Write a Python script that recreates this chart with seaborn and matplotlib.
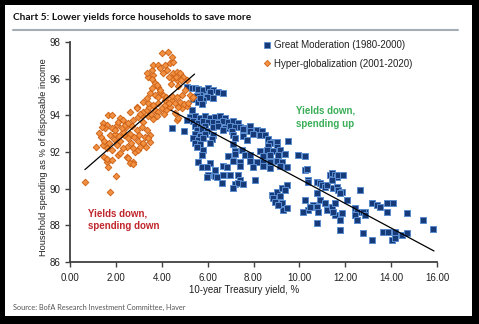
import matplotlib
matplotlib.use("Agg")
import matplotlib.pyplot as plt
import seaborn as sns
import pandas as pd
from matplotlib.patches import Rectangle
from matplotlib.lines import Line2D

# ---------------- data ----------------
gm_yield = [
    5.09, 5.30, 5.45, 5.60, 5.81, 6.03, 6.25, 6.46, 6.68, 6.10, 5.67, 5.96, 5.52, 5.38, 5.81, 5.59,
    5.67, 6.24, 5.74, 5.30, 5.23, 5.09, 4.43, 4.97,
    5.45, 5.67, 5.89, 6.10, 6.32, 6.54, 6.76,
    5.37, 5.59, 5.81, 6.03, 6.25, 6.46, 6.68, 6.90, 7.12, 7.34,
    5.45, 5.67, 5.89, 6.25, 6.46, 6.76, 6.97, 7.19, 7.41, 7.63, 7.85,
    5.52, 5.74, 5.96, 6.68, 7.05, 7.55, 7.85, 8.14, 8.36,
    5.45, 5.67, 5.89, 6.25, 7.12, 7.56, 7.99, 8.28, 8.50,
    5.37, 5.59, 5.81, 6.17, 7.19, 7.70, 8.65,
    8.86, 9.01, 9.52,
    5.45, 5.67, 6.10, 7.12, 8.72,
    9.01, 8.65, 5.52,
    5.81, 7.19, 7.48, 8.28, 8.57, 8.86, 9.15,
    5.74, 6.90, 7.19, 7.63, 7.85, 8.43, 8.72, 9.08, 9.37, 9.95, 10.24,
    5.60, 7.12, 7.41, 7.85, 8.14, 8.43, 8.72, 9.01, 9.23,
    6.10,
    5.74, 5.96, 6.68, 6.83, 7.41, 7.99, 8.43, 8.72, 9.15, 9.45,
    6.32,
    6.03, 6.32, 6.68, 6.97, 7.34,
    5.96, 6.39,
    7.41, 8.06,
    6.61, 7.19, 7.34, 7.56,
    7.12,
    8.79, 9.01, 9.23, 9.45, 8.86, 8.94, 9.15, 9.37, 9.23, 9.30, 9.45, 9.08,
    10.24, 10.32, 10.39, 10.39, 10.75, 10.90, 10.97, 11.12, 11.19, 11.48, 11.33, 11.41,
    11.55, 11.63, 11.70, 11.92, 11.41, 11.63, 11.70, 11.84, 11.77, 12.06, 10.75, 10.90,
    10.61, 10.39, 10.17, 11.12, 11.19, 11.41, 11.55, 10.24, 10.46, 10.75, 10.82, 10.75,
    11.55, 11.77, 11.84, 11.48, 11.77,
    12.64, 12.42, 12.50, 12.86, 12.42, 12.50, 12.79, 12.86, 13.15, 13.37, 13.51, 13.81,
    14.10, 13.81, 14.68, 15.40, 15.84, 12.79, 13.15, 13.66, 13.88, 14.17, 14.46, 14.68,
    14.02, 14.17,
]
gm_spend = [
    95.56, 95.50, 95.47, 95.42, 95.38, 95.47, 95.38, 95.29, 95.20, 95.25, 95.10, 95.00, 95.05, 94.90, 94.84, 94.75,
    94.93, 94.93, 94.60, 94.29, 93.92, 93.74, 93.29, 93.16,
    93.95, 93.88, 93.97, 93.86, 93.93, 93.99, 93.85,
    93.68, 93.60, 93.70, 93.62, 93.66, 93.58, 93.71, 93.63, 93.67, 93.60,
    93.40, 93.33, 93.43, 93.35, 93.41, 93.32, 93.44, 93.36, 93.39, 93.31, 93.42,
    93.18, 93.24, 93.15, 93.22, 93.17, 93.25, 93.16, 93.21, 93.14,
    92.96, 92.89, 92.98, 92.90, 92.95, 92.88, 92.97, 92.91, 92.94,
    92.75, 92.68, 92.74, 92.70, 92.77, 92.66, 92.73,
    92.56, 92.52, 92.60,
    92.47, 92.43, 92.50, 92.44, 92.49,
    92.29, 92.33, 92.26,
    92.10, 92.06, 92.13, 92.08, 92.12, 92.05, 92.11,
    91.84, 91.80, 91.87, 91.82, 91.86, 91.79, 91.85, 91.81, 91.88, 91.84, 91.80,
    91.47, 91.50, 91.44, 91.49, 91.43, 91.48, 91.45, 91.51, 91.46,
    91.38,
    91.20, 91.17, 91.23, 91.16, 91.22, 91.18, 91.24, 91.15, 91.21, 91.19,
    91.02,
    90.74, 90.70, 90.77, 90.72, 90.76,
    90.65, 90.62,
    90.47, 90.50,
    90.29, 90.26, 90.32, 90.27,
    90.05,
    89.65, 89.83, 90.02, 90.20, 89.47, 89.30, 89.60, 89.93, 89.20, 88.83, 88.93, 89.11,
    91.02, 91.10, 90.47, 90.38, 90.38, 90.29, 90.20, 90.11, 90.20, 90.02, 90.75, 90.84,
    90.75, 90.65, 90.75, 90.75, 90.47, 90.11, 89.93, 89.83, 89.75, 89.38, 89.75, 89.38,
    89.11, 88.83, 88.74, 89.20, 88.83, 89.02, 89.20, 89.38, 89.02, 89.02, 88.74, 88.11,
    88.56, 88.29, 88.65, 88.74, 87.74,
    89.93, 88.93, 88.74, 88.74, 88.56, 88.29, 88.74, 88.56, 89.20, 89.11, 89.02, 89.20,
    89.20, 88.74, 88.65, 88.29, 87.80, 87.56, 87.20, 87.65, 87.65, 87.65, 87.47, 87.56,
    87.20, 87.29,
]

hg_yield = [
    0.65, 1.74, 2.00,
    1.13, 1.45, 1.50, 1.60, 1.67, 1.62, 1.82, 2.10, 2.18, 2.47, 2.54, 2.76, 2.62, 2.73, 2.83, 2.98,
    1.50, 1.70, 1.90, 2.05, 2.20, 2.35, 2.50, 2.65, 2.80, 2.95, 3.05, 3.20, 1.75, 1.95, 2.30, 2.60,
    2.90, 3.00, 1.60, 1.85, 2.30, 2.75, 2.45, 2.70, 2.05, 1.85, 2.15, 2.55, 3.30, 3.50, 1.35, 1.25,
    1.67, 1.82, 2.18, 2.10, 1.45, 1.60, 1.53, 1.38, 1.96, 2.25, 2.40, 2.54, 2.76, 2.98, 3.12, 3.20,
    2.91, 2.62, 2.32,
    3.20, 3.12, 3.34, 3.49, 3.27, 3.41,
    3.34, 3.05, 2.91,
    3.40, 3.55, 3.70, 3.85, 4.00, 4.20, 4.35, 3.60, 3.80, 4.10, 3.45,
    3.20, 3.41, 3.63, 3.85, 4.14, 4.43, 4.58, 4.79, 4.87, 5.23, 5.30, 4.58, 4.65, 4.72, 5.10, 4.95,
    3.34, 3.49, 3.71, 3.85, 4.07, 4.14, 3.92, 3.56, 3.85, 3.71,
    3.63, 3.41, 3.56, 3.34, 3.56, 3.63, 3.85, 4.14, 4.36, 4.50, 4.43, 4.29, 4.00, 3.92, 4.07, 4.21,
    4.50, 4.65, 4.79, 4.94, 5.09, 4.65, 4.43, 4.30, 4.60, 4.85, 4.40, 4.70, 5.00,
    3.92, 3.78, 4.20, 4.45, 4.65, 4.90, 5.36, 4.30, 4.72, 5.15,
]
hg_spend = [
    90.38, 89.83, 90.69,
    92.30, 92.38, 91.74, 91.47, 91.20, 91.60, 91.56, 91.83, 91.93, 91.74, 91.65, 91.47, 91.38, 91.34, 92.00, 92.10,
    92.60, 92.50, 92.70, 92.40, 92.60, 92.90, 92.30, 92.50, 92.80, 92.60, 92.30, 92.50, 92.90, 93.00, 93.10, 93.00,
    93.20, 92.90, 92.20, 92.10, 92.20, 92.20, 93.35, 93.40, 93.50, 93.30, 92.85, 92.75, 92.30, 92.55, 92.80, 93.05,
    94.00, 94.00, 93.84, 93.65, 93.56, 93.47, 93.29, 93.38, 93.20, 93.29, 93.47, 93.56, 93.74, 93.92, 94.00, 94.20,
    94.47, 94.20, 93.74,
    93.65, 93.38, 93.20, 92.93, 92.84, 92.75,
    94.29, 94.10, 94.38,
    93.95, 94.10, 94.30, 94.20, 94.40, 94.30, 94.45, 93.80, 93.95, 94.10, 94.45,
    94.75, 94.66, 94.56, 94.66, 94.56, 94.84, 94.66, 94.75, 94.38, 95.11, 94.93, 94.11, 93.74, 93.84, 94.50, 94.60,
    94.93, 95.20, 95.11, 95.02, 95.11, 94.84, 95.29, 95.47, 95.56, 95.75,
    96.20, 96.10, 96.00, 96.30, 96.47, 96.75, 96.75, 96.75, 96.84, 96.93, 97.20, 97.47, 97.38, 96.56, 96.29, 96.47,
    96.29, 96.38, 96.29, 96.11, 95.93, 95.93, 96.02, 96.10, 96.10, 95.95, 95.70, 95.60, 95.40,
    95.38, 95.65, 95.00, 95.05, 95.00, 95.10, 95.00, 94.70, 94.47, 94.65,
]

gm_trend_x = [4.40, 15.87]
gm_trend_y = [94.28, 86.60]
hg_trend_x = [0.65, 5.43]
hg_trend_y = [91.04, 96.25]

x_ticks = [0, 2, 4, 6, 8, 10, 12, 14, 16]
y_ticks = [86, 88, 90, 92, 94, 96, 98]

gm_label = "Great Moderation (1980-2000)"
hg_label = "Hyper-globalization (2001-2020)"
title = "Chart 5: Lower yields force households to save more"
source = "Source: BofA Research Investment Committee, Haver"
x_label = "10-year Treasury yield, %"
y_label = "Household spending as % of disposable income"

# ---------------- drawing ----------------
sns.set_theme(style="white")
plt.rcParams["font.family"] = ["Liberation Sans", "DejaVu Sans"]

W, H = 479, 324
fig = plt.figure(figsize=(W / 100, H / 100), dpi=100, facecolor="black")
fig.patches.append(Rectangle((5 / W, 8 / H), 467 / W, 311 / H, transform=fig.transFigure,
                             facecolor="white", edgecolor="none", zorder=-10))

ax = fig.add_axes([70 / W, 1 - 262 / H, 367 / W, 220 / H])
ax.set_zorder(2)
ax.set_facecolor("white")

gm = pd.DataFrame({"x": gm_yield, "y": gm_spend})
hg = pd.DataFrame({"x": hg_yield, "y": hg_spend})

blue_face, blue_edge = "#173a78", "#5a8ccf"
org_face, org_edge = "#f39142", "#cf6418"

sns.scatterplot(data=gm, x="x", y="y", marker="s", s=19, color=blue_face,
                edgecolor=blue_edge, linewidth=0.7, ax=ax, zorder=3, legend=False)
sns.scatterplot(data=hg, x="x", y="y", marker="D", s=11, color=org_face,
                edgecolor=org_edge, linewidth=0.7, ax=ax, zorder=4, legend=False)
sns.lineplot(x=gm_trend_x, y=gm_trend_y, color="black", linewidth=0.9, ax=ax, zorder=5)
sns.lineplot(x=hg_trend_x, y=hg_trend_y, color="black", linewidth=0.9, ax=ax, zorder=5)

ax.set_xlim(0, 16)
ax.set_ylim(86, 98)
ax.set_xticks(x_ticks)
ax.set_xticklabels([f"{v:.2f}" for v in x_ticks])
ax.set_yticks(y_ticks)
ax.set_yticklabels([str(v) for v in y_ticks])
ax.tick_params(axis="both", direction="out", length=3.5, width=1.0, color="#404040",
               labelsize=7, labelcolor="#222222", left=True, bottom=True)
ax.tick_params(axis="x", pad=4.5)
ax.tick_params(axis="y", pad=3.5)
for side in ["top", "right"]:
    ax.spines[side].set_visible(False)
for side in ["left", "bottom"]:
    ax.spines[side].set_color("#404040")
    ax.spines[side].set_linewidth(1.3)
ax.set_xlabel("")
ax.set_ylabel("")
ax.grid(False)

fig.text(44 / W, 1 - 157 / H, y_label, rotation=90, ha="center", va="center",
         fontsize=6.7, color="#222222")
fig.text(244.5 / W, 1 - 290 / H, x_label, ha="center", va="center",
         fontsize=7, color="#222222")

handles = [
    Line2D([], [], marker="s", linestyle="none", markersize=4.0, markerfacecolor=blue_face,
           markeredgecolor=blue_edge, markeredgewidth=0.6, label=gm_label),
    Line2D([], [], marker="D", linestyle="none", markersize=3.2, markerfacecolor=org_face,
           markeredgecolor=org_edge, markeredgewidth=0.6, label=hg_label),
]
fig.legend(handles=handles, loc="upper left", bbox_to_anchor=(264 / W, 1 - 40 / H),
           frameon=False, fontsize=7, handlelength=0.6, handletextpad=0.45,
           labelspacing=0.9, borderpad=0, borderaxespad=0, labelcolor="#222222")

ax.text(9.85, 94.51, "Yields down,\nspending up", color="#3aae58", fontsize=7,
        fontweight="bold", ha="left", va="top", linespacing=1.35, zorder=6)
ax.text(0.78, 88.94, "Yields down,\nspending down", color="#c0272d", fontsize=7,
        fontweight="bold", ha="left", va="top", linespacing=1.35, zorder=6)

fig.text(13 / W, 1 - 18 / H, title, fontsize=7.3, fontweight="bold",
         family=["Lato", "DejaVu Sans"], color="#111111", ha="left", va="center")
fig.add_artist(Line2D([13 / W, 458 / W], [1 - 30 / H, 1 - 30 / H], color="#a3acb5",
                      linewidth=1.5, transform=fig.transFigure))
fig.text(13 / W, 1 - 307 / H, source, fontsize=5.3, family=["Lato", "DejaVu Sans"],
         color="#555555", ha="left", va="center")

fig.savefig("out.png", dpi=100, facecolor=fig.get_facecolor())
